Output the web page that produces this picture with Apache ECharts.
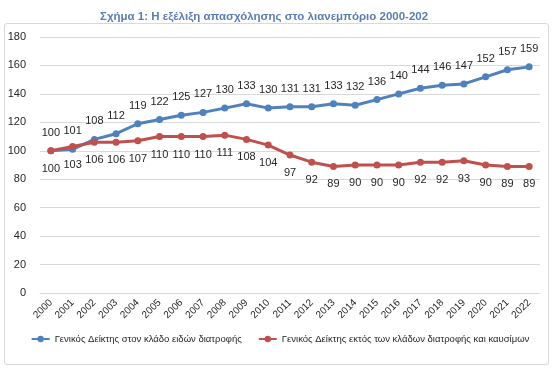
<!DOCTYPE html>
<html><head><meta charset="utf-8">
<script src="https://cdn.jsdelivr.net/npm/echarts@6/dist/echarts.min.js"></script>
<style>html,body{margin:0;padding:0;background:#fff}#c{width:560px;height:371px}
#box{position:absolute;left:4px;top:23px;width:543px;height:340px;border:1px solid #d9d9d9;border-radius:3px}</style>
</head><body><div id="box"></div><div id="c" style="position:absolute;left:0;top:0"></div>
<script>
var titleText = 'Σχήμα 1: Η εξέλιξη απασχόλησης στο λιανεμπόριο 2000-202';
var years = ['2000','2001','2002','2003','2004','2005','2006','2007','2008','2009','2010','2011','2012','2013','2014','2015','2016','2017','2018','2019','2020','2021','2022'];
var foodName = 'Γενικός Δείκτης στον κλάδο ειδών διατροφής';
var otherName = 'Γενικός Δείκτης εκτός των κλάδων διατροφής και καυσίμων';
var foodValues = [100,101,108,112,119,122,125,127,130,133,130,131,131,133,132,136,140,144,146,147,152,157,159];
var otherValues = [100,103,106,106,107,110,110,110,111,108,104,97,92,89,90,90,90,92,92,93,90,89,89];
var font = 'Liberation Sans, Arial, sans-serif';
var chart = echarts.init(document.getElementById('c'));
chart.setOption({
  animation:false,
  title:{text:titleText,left:95,top:6,textStyle:{color:'#5B7DB3',fontSize:11.5,fontWeight:'bold',fontFamily:font}},
  grid:{left:40,right:20,top:37,bottom:78},
  legend:{bottom:22,left:'center',itemGap:16,itemWidth:18,itemHeight:8,textStyle:{fontSize:9.5,color:'#262626',fontFamily:font},data:[foodName,otherName]},
  xAxis:{type:'category',data:years,boundaryGap:true,axisLine:{lineStyle:{color:'#d9d9d9'}},axisTick:{show:false},
    axisLabel:{rotate:45,fontSize:10,color:'#262626',fontFamily:font,margin:8,interval:0}},
  yAxis:{type:'value',min:0,max:180,interval:20,axisLine:{show:false},axisTick:{show:false},
    splitLine:{lineStyle:{color:'#d9d9d9'}},axisLabel:{fontSize:11,color:'#262626',fontFamily:font,margin:14}},
  series:[
    {name:foodName,type:'line',data:foodValues,symbol:'circle',symbolSize:7,
     lineStyle:{color:'#4F81BD',width:3},itemStyle:{color:'#4F81BD'},
     label:{show:true,position:'top',distance:9,fontSize:11,color:'#262626',fontFamily:font}},
    {name:otherName,type:'line',data:otherValues,symbol:'circle',symbolSize:7,
     lineStyle:{color:'#C0504D',width:3},itemStyle:{color:'#C0504D'},
     label:{show:true,position:'bottom',distance:9,fontSize:11,color:'#262626',fontFamily:font}}
  ]
});
</script></body></html>
